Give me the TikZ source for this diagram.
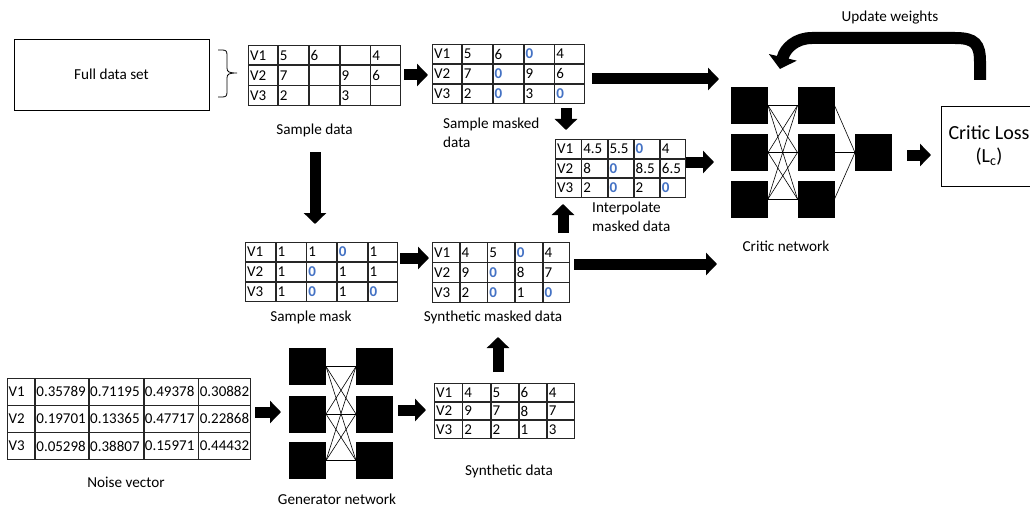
\documentclass[tikz,border=0pt]{standalone}
\usepackage{fontspec}
\setmainfont{Carlito}
\usetikzlibrary{matrix,arrows.meta}
\definecolor{zblue}{RGB}{68,114,196}
\newcommand\Z{\textcolor{zblue}{\textbf{0}}}
\newcommand\tabfont{\fontsize{15}{17}\selectfont}
\newcommand\lblfont{\fontsize{15.2}{18.5}\selectfont}
\begin{document}
\begin{tikzpicture}[x=1pt,y=-1pt,
  tbl/.style={matrix of nodes, nodes in empty cells, inner sep=0pt,
    column sep=0pt, row sep=0pt, anchor=north west,
    nodes={draw=black!85, line width=0.8pt, outer sep=0pt, inner xsep=1.5pt,
      inner ysep=0pt, align=left, font=\tabfont, anchor=center}},
  lbl/.style={font=\lblfont, inner sep=0pt},
  sq/.style={fill=black, minimum width=37pt, minimum height=37pt, inner sep=0pt, outer sep=0pt},
  wire/.style={line width=0.6pt},
  barrow/.style={line width=11pt, -{Triangle[length=11pt,width=22pt]}}
]
\useasboundingbox (0,0) rectangle (1030,508);

% full data set
\node[draw, line width=0.8pt, minimum width=195pt, minimum height=71pt, inner sep=0pt, font=\lblfont] (full) at (111.5,74.5) {Full data set};
\draw[line width=0.8pt] (218,50) -- (222,50) .. controls (226,50) and (227,51) .. (227,55)
  -- (227,68) .. controls (227,72) and (229,73) .. (237,73)
  .. controls (229,73) and (227,74) .. (227,78)
  -- (227,92) .. controls (227,96) and (226,97) .. (222,97) -- (218,97);

% sample data
\matrix (sd) [tbl, nodes={text width=27pt, minimum height=19.3pt}, column 1/.style={nodes={text width=26pt}}] at (248,45) {
V1 & 5 & 6 &   & 4\\
V2 & 7 &   & 9 & 6\\
V3 & 2 &   & 3 &  \\
};
\node[lbl] (sdl) at (314.5,130) {Sample data};

% sample masked data
\matrix (smd) [tbl, nodes={text width=27pt, minimum height=19pt}, column 1/.style={nodes={text width=26pt}}] at (432,44) {
V1 & 5 & 6 & \Z & 4\\
V2 & 7 & \Z & 9 & 6\\
V3 & 2 & \Z & 3 & \Z\\
};
\node[lbl, align=left, anchor=west] (smdl) at (443,133) {Sample masked\\data};

% interpolate
\matrix (itp) [tbl, nodes={text width=22.4pt, minimum height=18.7pt}] at (555,139) {
V1 & 4.5 & 5.5 & \Z & 4\\
V2 & 8 & \Z & 8.5 & 6.5\\
V3 & 2 & \Z & 2 & \Z\\
};
\node[lbl, align=left, anchor=west] (itpl) at (592,217) {Interpolate\\masked data};

% sample mask
\matrix (sm) [tbl, nodes={text width=26.8pt, minimum height=19pt}] at (245,242) {
V1 & 1 & 1 & \Z & 1\\
V2 & 1 & \Z & 1 & 1\\
V3 & 1 & \Z & 1 & \Z\\
};
\node[lbl] (sml) at (311,317) {Sample mask};

% synthetic masked data
\matrix (synm) [tbl, nodes={text width=23.8pt, minimum height=19.3pt}] at (432,242) {
V1 & 4 & 5 & \Z & 4\\
V2 & 9 & \Z & 8 & 7\\
V3 & 2 & \Z & 1 & \Z\\
};
\node[lbl] (synml) at (493,317) {Synthetic masked data};

% synthetic data
\matrix (syn) [tbl, nodes={text width=24.4pt, minimum height=17.7pt}] at (434,383) {
V1 & 4 & 5 & 6 & 4\\
V2 & 9 & 7 & 8 & 7\\
V3 & 2 & 2 & 1 & 3\\
};
\node[lbl] (synl) at (509,471) {Synthetic data};

% noise vector
\matrix (nz) [tbl, nodes={inner xsep=1pt, minimum height=26.3pt},
  column 1/.style={nodes={text width=25pt}}, column 2/.style={nodes={text width=51pt}},
  column 3/.style={nodes={text width=52pt}}, column 4/.style={nodes={text width=52pt}},
  column 5/.style={nodes={text width=50pt}}] at (7,378) {
V1 & 0.35789 & 0.71195 & 0.49378 & 0.30882\\
V2 & 0.19701 & 0.13365 & 0.47717 & 0.22868\\
V3 & 0.05298 & 0.38807 & 0.15971 & 0.44432\\
};
\node[lbl] (nzl) at (126,482) {Noise vector};

% generator network
\node[sq] (g11) at (307.5,366.5) {};
\node[sq] (g12) at (307.5,414) {};
\node[sq] (g13) at (307.5,460.5) {};
\node[sq] (g21) at (374.5,366.5) {};
\node[sq] (g22) at (374.5,414) {};
\node[sq] (g23) at (374.5,460.5) {};
\foreach \i in {1,2,3}{\foreach \j in {1,2,3}{\draw[wire] (g1\i.east) -- (g2\j.west);}}
\node[lbl] (gl) at (337,499) {Generator network};

% critic network
\node[sq] (c11) at (749.5,105.5) {};
\node[sq] (c12) at (749.5,152.5) {};
\node[sq] (c13) at (749.5,199) {};
\node[sq] (c21) at (816,105.5) {};
\node[sq] (c22) at (816,152.5) {};
\node[sq] (c23) at (816,199) {};
\node[sq] (co) at (873.5,152.5) {};
\foreach \i in {1,2,3}{\foreach \j in {1,2,3}{\draw[wire] (c1\i.east) -- (c2\j.west);}
  \draw[wire] (c2\i.east) -- (co.west);}
\node[lbl] (cl) at (786,246) {Critic network};

% critic loss
\node[draw, line width=0.8pt, minimum width=96pt, minimum height=80pt, inner sep=0pt, align=center,
  font=\fontsize{20}{23}\selectfont] (loss) at (989,146) {Critic Loss\\(L\textsubscript{c})};
\node[lbl] (uw) at (890,18) {Update weights};

% block arrows
\draw[barrow] (404,75) -- (428,75);
\draw[barrow] (592,79) -- (719,79);
\draw[barrow] (566,108) -- (566,130);
\draw[barrow] (686,162) -- (714,162);
\draw[barrow] (563,233) -- (563,204);
\draw[barrow] (315,152) -- (315,224);
\draw[barrow] (400,258) -- (429,258);
\draw[barrow] (574,264) -- (717,264);
\draw[barrow] (907,155) -- (931,155);
\draw[barrow] (255,412) -- (281,412);
\draw[barrow] (398,410) -- (426,410);
\draw[barrow] (498,372) -- (498,337);

% update weights arrow
\draw[line width=12pt, -{Triangle[length=12pt,width=28pt]}]
  (980,80) -- (980,62) .. controls (980,44) and (975,38) .. (955,38)
  -- (812,38) .. controls (796,38) and (785,48) .. (780,69);
\end{tikzpicture}
\end{document}
